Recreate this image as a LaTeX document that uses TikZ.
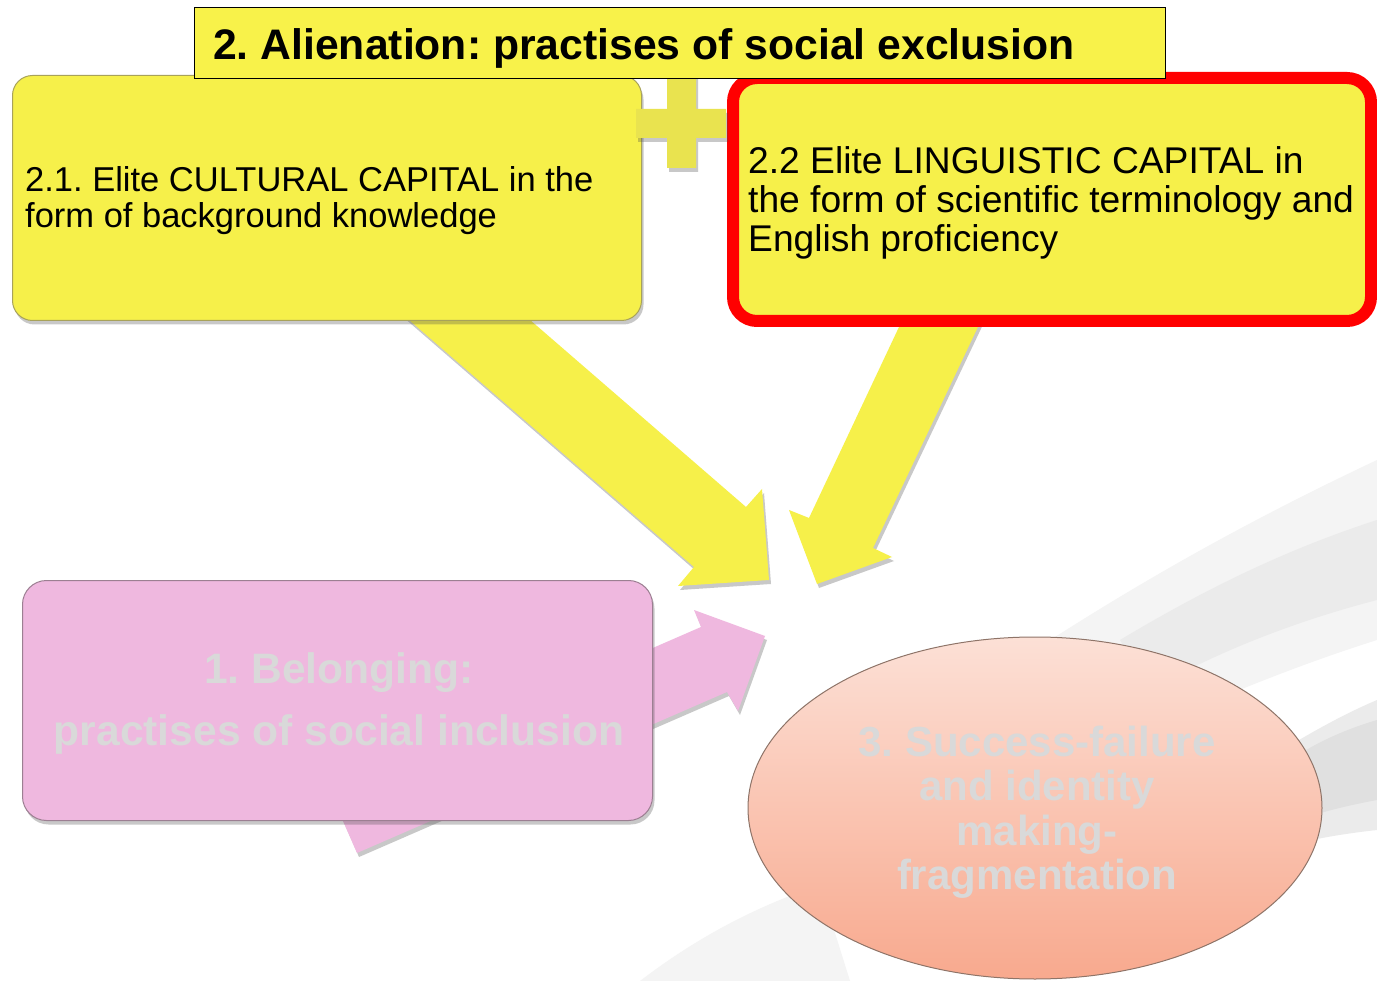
\documentclass[tikz,border=0pt]{standalone}
\usepackage{fontspec}
\setmainfont{Liberation Sans}
\usetikzlibrary{shadows,shapes.geometric}

\definecolor{boxyellow}{HTML}{F6F04A}
\definecolor{titleyellow}{HTML}{F8F24A}
\definecolor{plusyellow}{HTML}{E9E34F}
\definecolor{yellowedge}{HTML}{A8A25A}
\definecolor{capred}{HTML}{FF0000}
\definecolor{pinkfill}{HTML}{EFB8DF}
\definecolor{pinkedge}{HTML}{9C7F92}
\definecolor{fadedtext}{HTML}{D9D9D9}
\definecolor{ovaltop}{HTML}{FCE0D6}
\definecolor{ovalbottom}{HTML}{F8A98E}
\definecolor{ovaledge}{HTML}{8E7468}
\definecolor{swooshlight}{HTML}{F4F4F4}
\definecolor{swooshmid}{HTML}{EBEBEB}
\definecolor{swooshdark}{HTML}{E0E0E0}

\tikzset{
  softshadow/.style={drop shadow={shadow xshift=2pt, shadow yshift=-4pt, opacity=0.3, fill=black!70}},
  blockarrow/.style={fill=boxyellow, softshadow},
  capbox/.style={fill=boxyellow, draw=yellowedge, line width=1pt, rounded corners=20pt, softshadow},
  redcapbox/.style={fill=boxyellow, draw=capred, line width=12pt, rounded corners=24pt, softshadow},
  titlebox/.style={fill=titleyellow, draw=black, line width=1.3pt},
  bodytext/.style={inner sep=0pt, align=left, text=black},
  pinkbox/.style={fill=pinkfill, draw=pinkedge, line width=1pt, rounded corners=24pt, softshadow},
  fadedlabel/.style={inner sep=0pt, align=center, text=fadedtext, font=\bfseries},
}

\begin{document}
\frenchspacing
\begin{tikzpicture}[x=1pt, y=-1pt]
  \useasboundingbox (0,0) rectangle (1377,981);
  \fill[white] (0,0) rectangle (1377,981);

  % faint grey swoosh in the lower right background
  \fill[swooshlight]
    (960,700) .. controls (1120,590) and (1250,520) .. (1377,460) -- (1377,640)
    .. controls (1250,680) and (1120,740) .. (1000,800) -- cycle;
  \fill[swooshmid]
    (1120,640) .. controls (1220,580) and (1300,545) .. (1377,520) -- (1377,600)
    .. controls (1300,620) and (1220,650) .. (1150,690) -- cycle;
  \fill[swooshmid]
    (1220,790) .. controls (1280,750) and (1330,720) .. (1377,700) -- (1377,830)
    .. controls (1330,835) and (1280,845) .. (1240,860) -- cycle;
  \fill[swooshdark]
    (1290,760) .. controls (1320,740) and (1350,728) .. (1377,720) -- (1377,800)
    .. controls (1350,805) and (1320,812) .. (1300,820) -- cycle;
  \fill[swooshlight]
    (640,981) .. controls (700,935) and (760,905) .. (820,885) -- (850,981) -- cycle;

  % yellow block arrows from the two capitals
  \fill[blockarrow] (386,300) -- (507,300) -- (746,507) -- (762,489)
    -- (769,580) -- (678,586) -- (694,567) -- cycle;
  \fill[blockarrow] (907,310) -- (986,310) -- (873,548) -- (892,557)
    -- (817,584) -- (789,510) -- (809,518) -- cycle;

  % 2.1 cultural capital
  \node[capbox, minimum width=629pt, minimum height=245pt, anchor=north west]
    (cultural) at (12,75) {};
  \node[bodytext, anchor=west, font=\fontsize{34.5}{36}\selectfont]
    (culturaltext) at (25,201) {2.1. Elite CULTURAL CAPITAL in the\\form of background knowledge};

  % 2.2 linguistic capital
  \node[redcapbox, minimum width=638pt, minimum height=243pt, anchor=north west]
    (linguistic) at (727,72) {};
  \node[bodytext, anchor=west, font=\fontsize{37.2}{39}\selectfont]
    (linguistictext) at (748,203) {2.2 Elite LINGUISTIC CAPITAL in\\the form of scientific terminology and\\English proficiency};

  % plus sign between the two capitals
  \fill[plusyellow, softshadow] (667,70) -- (696,70) -- (696,109) -- (726,109) -- (726,138)
    -- (696,138) -- (696,168) -- (667,168) -- (667,138) -- (636,138) -- (636,109)
    -- (667,109) -- cycle;

  % heading
  \node[titlebox, minimum width=971pt, minimum height=71pt, anchor=north west]
    (title) at (194,7) {};
  \node[inner sep=0pt, anchor=base west, font=\fontsize{42.7}{46}\selectfont\bfseries]
    (titletext) at (213,60) {2. Alienation: practises of social exclusion};

  % pink block arrow behind the belonging box
  \fill[pinkfill, softshadow] (329,789) -- (701,627) -- (694,610) -- (765,636)
    -- (738,711) -- (727,692) -- (357,853) -- cycle;

  % 1. belonging
  \node[pinkbox, minimum width=630pt, minimum height=240pt, anchor=north west]
    (belonging) at (22,580) {};
  \node[fadedlabel, font=\fontsize{42.6}{62}\selectfont\bfseries]
    (belongingtext) at (339,703) {1. Belonging:\\practises of social inclusion};

  % 3. success-failure
  \node[ellipse, minimum width=574pt, minimum height=342pt, inner sep=0pt,
        top color=ovaltop, bottom color=ovalbottom, draw=ovaledge, line width=1pt]
    (success) at (1035,808) {};
  \node[fadedlabel, font=\fontsize{42}{44.5}\selectfont\bfseries]
    (successtext) at (1037,812) {3. Success-failure\\and identity\\making-\\fragmentation};
\end{tikzpicture}
\end{document}
